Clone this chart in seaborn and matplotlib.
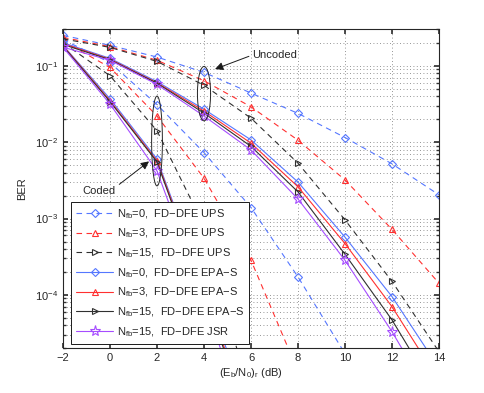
import numpy as np
import pandas as pd
import matplotlib
matplotlib.use('Agg')
import matplotlib.pyplot as plt
import seaborn as sns

# Eb/N0 grid (dB)
SNR = [-2, 0, 2, 4, 6, 8, 10, 12, 14]

LABELS = [
    r'N$_{\rm fb}$=0,  FD−DFE UPS',
    r'N$_{\rm fb}$=3,  FD−DFE UPS',
    r'N$_{\rm fb}$=15,  FD−DFE UPS',
    r'N$_{\rm fb}$=0,  FD−DFE EPA−S',
    r'N$_{\rm fb}$=3,  FD−DFE EPA−S',
    r'N$_{\rm fb}$=15,  FD−DFE EPA−S',
    r'N$_{\rm fb}$=15,  FD−DFE JSR',
]

# uncoded BER
unc_ups0 = [0.25, 0.185, 0.13, 0.082, 0.0439, 0.0238, 0.0115, 0.0052, 0.00204]
unc_ups3 = [0.235, 0.178, 0.118, 0.0636, 0.029, 0.0106, 0.0032, 0.00072, 0.000142]
unc_ups15 = [0.225, 0.174, 0.114, 0.0555, 0.0206, 0.0053, 0.00096, 0.00015, 0.000018]
unc_epa0 = [0.2, 0.125, 0.062, 0.027, 0.0107, 0.0030, 0.00057, 0.000095, 0.000011]
unc_epa3 = [0.195, 0.122, 0.06, 0.0255, 0.0097, 0.0026, 0.00047, 0.00007, 0.0000075]
unc_epa15 = [0.19, 0.12, 0.059, 0.024, 0.0088, 0.00223, 0.00034, 0.000047, 0.0000045]
unc_jsr15 = [0.175, 0.118, 0.057, 0.022, 0.0079, 0.0018, 0.000284, 0.000033, 0.000003]

# coded BER (curves leave the plot early, NaN = not drawn)
nan = np.nan
cod_ups0 = [0.22, 0.11, 0.031, 0.0073, 0.00139, 0.000172, 0.000017, nan, nan]
cod_ups3 = [0.21, 0.095, 0.022, 0.00337, 0.000284, 0.00001, nan, nan, nan]
cod_ups15 = [0.2, 0.074, 0.0141, 0.0008, 0.000004, nan, nan, nan, nan]
cod_epa0 = [0.185, 0.037, 0.006, 0.00013, 0.0000025, nan, nan, nan, nan]
cod_epa3 = [0.183, 0.035, 0.0057, 0.00012, 0.000002, nan, nan, nan, nan]
cod_epa15 = [0.18, 0.034, 0.0055, 0.00011, 0.0000018, nan, nan, nan, nan]
cod_jsr15 = [0.175, 0.0315, 0.0042, 0.00009, 0.0000012, nan, nan, nan, nan]

UNCODED = [unc_ups0, unc_ups3, unc_ups15, unc_epa0, unc_epa3, unc_epa15, unc_jsr15]
CODED = [cod_ups0, cod_ups3, cod_ups15, cod_epa0, cod_epa3, cod_epa15, cod_jsr15]

BLUE, RED, BLACK, PURPLE = '#5577ff', '#ff3030', '#303030', '#a64dff'
PALETTE = dict(zip(LABELS, [BLUE, RED, BLACK, BLUE, RED, BLACK, PURPLE]))
MARKERS = dict(zip(LABELS, ['D', '^', '>', 'D', '^', '>', '*']))
DASHES = dict(zip(LABELS, [(5, 4)] * 3 + [''] * 4))

rows = []
for case, series in [('uncoded', UNCODED), ('coded', CODED)]:
    for label, vals in zip(LABELS, series):
        for x, y in zip(SNR, vals):
            rows.append({'snr': x, 'ber': y, 'label': label, 'case': case})
df = pd.DataFrame(rows).dropna()

sns.set_theme(style='white')
plt.rcParams['font.family'] = ['Liberation Sans', 'DejaVu Sans']
plt.rcParams['mathtext.fontset'] = 'custom'
plt.rcParams['mathtext.rm'] = 'Liberation Sans'
plt.rcParams['mathtext.it'] = 'Liberation Sans:italic'

fig = plt.figure(figsize=(4.85, 3.93), dpi=100)
ax = fig.add_axes([0.1299, 0.1137, 0.7753, 0.8117])
ax.set_yscale('log')

sns.lineplot(data=df, x='snr', y='ber', hue='label', style='label', units='case',
             estimator=None, sort=False, hue_order=LABELS, style_order=LABELS,
             palette=PALETTE, markers=MARKERS, dashes=DASHES,
             lw=0.8, ms=5, legend=False, ax=ax)

handles = {}
for line in ax.lines:
    line.set_markerfacecolor('none')
    line.set_markeredgecolor(line.get_color())
    line.set_markeredgewidth(0.8)
    if line.get_marker() == '*':
        line.set_markersize(8)
    elif line.get_marker() == 'D':
        line.set_markersize(4.5)
    handles.setdefault((line.get_marker(), line.get_linestyle()), line)

ordered = []
for lab in LABELS:
    key = (MARKERS[lab], '--' if DASHES[lab] else '-')
    ordered.append(handles[key])

ax.set_xlim(-2, 14)
ax.set_ylim(2e-5, 0.3)
ax.set_xticks(SNR)
ax.grid(True, which='major', axis='both', color='0.45', linestyle=(0, (1, 3)), lw=0.6)
ax.grid(True, which='minor', axis='y', color='0.45', linestyle=(0, (1, 3)), lw=0.6)
ax.tick_params(which='both', direction='in', top=True, right=True, labelsize=8,
               color='0.2', bottom=True, left=True)
ax.tick_params(which='major', length=3.5)
ax.tick_params(which='minor', length=2)
for sp in ax.spines.values():
    sp.set_color('0.15')
    sp.set_linewidth(0.8)

ax.set_xlabel(r'(E$_{\rm b}$/N$_{\rm 0}$)$_{\rm r}$ (dB)', fontsize=8, labelpad=2)
ax.set_ylabel('BER', fontsize=8, labelpad=6)

# group ellipses (log-space in y)
t = np.linspace(0, 2 * np.pi, 200)
ax.plot(4 + 0.28 * np.cos(t), 10 ** (-1.365 + 0.356 * np.sin(t)), color='0.15', lw=0.7)
ax.plot(2 + 0.23 * np.cos(t), 10 ** (-1.985 + 0.588 * np.sin(t)), color='0.15', lw=0.7)

arrow = dict(arrowstyle='-|>', color='k', lw=0.7, shrinkA=0, shrinkB=0, mutation_scale=12)
ax.annotate('Uncoded', xy=(4.47, 0.0905), xytext=(6.05, 0.138), fontsize=8,
            ha='left', va='center', arrowprops=dict(arrow, relpos=(0, 0.5)))
ax.annotate('Coded', xy=(1.66, 0.0056), xytext=(-0.45, 0.0023), fontsize=8,
            ha='center', va='center', arrowprops=dict(arrow, relpos=(1, 0.9)))

leg = ax.legend(ordered, LABELS, loc='lower left', bbox_to_anchor=(0.022, 0.014),
                fontsize=8, frameon=True, fancybox=False, framealpha=1,
                edgecolor='0.1', handlelength=3.3, handletextpad=0.35,
                labelspacing=0.55, borderpad=0.45, borderaxespad=0)
leg.get_frame().set_linewidth(0.7)

fig.savefig('out.png', dpi=100)
